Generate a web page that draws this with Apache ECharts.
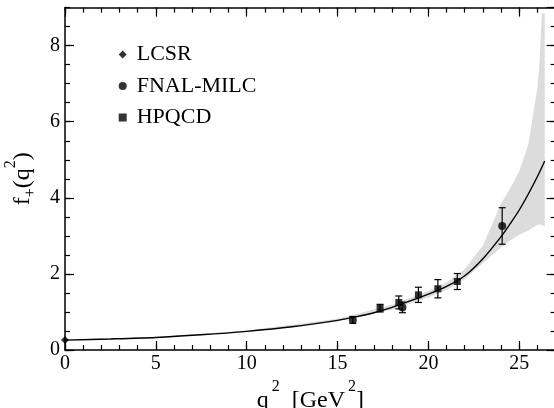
<!DOCTYPE html>
<html>
<head>
<meta charset="utf-8">
<script src="https://cdn.jsdelivr.net/npm/echarts@6/dist/echarts.min.js"></script>
<style>
html,body{margin:0;padding:0;background:#fff;}
#chart{width:554px;height:408px;}
</style>
</head>
<body>
<div id="chart"></div>
<script>
// ---- data ----
const curveX = [0, 2.5, 5, 7.5, 10, 12.5, 15, 16, 17, 18, 19, 20, 21, 22, 23, 24, 24.5, 25, 25.5, 26, 26.4];
const curveY = [0.26, 0.29, 0.33, 0.40, 0.49, 0.61, 0.78, 0.87, 0.98, 1.12, 1.29, 1.47, 1.67, 1.95, 2.40, 2.98, 3.32, 3.68, 4.10, 4.56, 4.97];

const bandX    = [0, 5, 10, 15, 18, 20, 21, 22, 23, 24, 24.5, 25, 25.5, 26, 26.1, 26.25, 26.4];
const bandLow  = [0.25, 0.32, 0.47, 0.75, 1.06, 1.38, 1.58, 1.86, 2.28, 2.70, 2.88, 3.03, 3.14, 3.29, 3.30, 3.30, 3.24];
const bandHigh = [0.27, 0.345, 0.51, 0.82, 1.19, 1.55, 1.78, 2.12, 2.75, 3.85, 4.25, 4.70, 5.40, 6.90, 7.45, 8.85, 8.85];

const lcsrX = [0];
const lcsrY = [0.26];

const fnalX   = [15.84, 18.57, 24.06];
const fnalY   = [0.79, 1.12, 3.26];
const fnalErr = [0.09, 0.14, 0.48];

const hpqcdX   = [17.34, 18.37, 19.45, 20.52, 21.59];
const hpqcdY   = [1.10, 1.25, 1.45, 1.61, 1.80];
const hpqcdErr = [0.10, 0.17, 0.20, 0.24, 0.21];

const xTickMajor = 5, xTickMinor = 1;
const yTickMajor = 2, yTickMinor = 0.5;
const xRange = [0, 27];
const yRange = [0, 9];

// ---- chart ----
const FONT = '"Liberation Serif", "DejaVu Serif", serif';
const chart = echarts.init(document.getElementById('chart'), null, {renderer: 'canvas'});

const zip = (xs, ys) => xs.map((x, i) => [x, ys[i]]);
const zip3 = (xs, ys, es) => xs.map((x, i) => [x, ys[i], es[i]]);

function xAx(opts) {
  return Object.assign({
    type: 'value', min: xRange[0], max: xRange[1], interval: xTickMajor,
    position: 'bottom',
    axisLine: {show: true, onZero: false, lineStyle: {color: '#000', width: 1.5}},
    axisTick: {show: true, inside: true, length: 9, lineStyle: {color: '#000', width: 1.2}},
    axisLabel: {show: false},
    splitLine: {show: false}
  }, opts);
}
function yAx(opts) {
  return Object.assign({
    type: 'value', min: yRange[0], max: yRange[1], interval: yTickMajor,
    position: 'left',
    axisLine: {show: true, onZero: false, lineStyle: {color: '#000', width: 1.5}},
    axisTick: {show: true, inside: true, length: 9, lineStyle: {color: '#000', width: 1.2}},
    axisLabel: {show: false},
    splitLine: {show: false}
  }, opts);
}
const minorTick = {show: true, inside: true, length: 5, lineStyle: {color: '#000', width: 1.2}};

const errRender = function (params, api) {
  const x = api.value(0), y = api.value(1), e = api.value(2);
  const top = api.coord([x, y + e]);
  const bot = api.coord([x, y - e]);
  const hw = 3.5;
  const st = {stroke: '#000', lineWidth: 1.2};
  return {
    type: 'group',
    children: [
      {type: 'line', shape: {x1: top[0], y1: top[1], x2: bot[0], y2: bot[1]}, style: st},
      {type: 'line', shape: {x1: top[0] - hw, y1: top[1], x2: top[0] + hw, y2: top[1]}, style: st},
      {type: 'line', shape: {x1: bot[0] - hw, y1: bot[1], x2: bot[0] + hw, y2: bot[1]}, style: st}
    ]
  };
};

const option = {
  animation: false,
  backgroundColor: '#fff',
  textStyle: {fontFamily: FONT},
  grid: {left: 65, top: 7.6, width: 490.6, height: 342.4, containLabel: false, outerBoundsMode: 'none'},
  legend: {
    data: ['LCSR', 'FNAL-MILC', 'HPQCD'],
    orient: 'vertical',
    left: 113.7, top: 38.5,
    itemWidth: 8, itemHeight: 8, itemGap: 9.5,
    selectedMode: false,
    textStyle: {fontSize: 22, fontFamily: FONT, color: '#000', padding: [0, 0, 0, 5]}
  },
  xAxis: [
    xAx({
      axisLabel: {show: true, fontSize: 20, fontFamily: FONT, color: '#000', margin: 4, showMaxLabel: false},
      name: '{m|q}{sup|2}{m|  [GeV}{sup|2}{m|]}',
      nameLocation: 'middle', nameGap: 27.7,
      nameTextStyle: {
        color: '#000', fontFamily: FONT,
        rich: {
          m: {fontSize: 24, lineHeight: 24, fontFamily: FONT, color: '#000', verticalAlign: 'bottom'},
          sup: {fontSize: 16, lineHeight: 16, fontFamily: FONT, color: '#000', verticalAlign: 'bottom', padding: [0, 0, 18, 3]}
        }
      }
    }),
    xAx({interval: xTickMinor, axisLine: {show: false, onZero: false}, axisTick: minorTick}),
    xAx({position: 'top'}),
    xAx({position: 'top', interval: xTickMinor, axisLine: {show: false, onZero: false}, axisTick: minorTick})
  ],
  yAxis: [
    yAx({
      axisLabel: {show: true, fontSize: 20, fontFamily: FONT, color: '#000', margin: 5, showMaxLabel: false},
      name: '{m|f}{sub|+}{m|(q}{sup|2}{m|)}',
      nameLocation: 'middle', nameGap: 25.5,
      nameTextStyle: {
        color: '#000', fontFamily: FONT,
        rich: {
          m: {fontSize: 24, lineHeight: 24, fontFamily: FONT, color: '#000', verticalAlign: 'bottom', padding: [0, 0, 4, 0]},
          sub: {fontSize: 16, lineHeight: 16, fontFamily: FONT, color: '#000', verticalAlign: 'bottom'},
          sup: {fontSize: 16, lineHeight: 16, fontFamily: FONT, color: '#000', verticalAlign: 'bottom', padding: [0, 0, 20, 0]}
        }
      }
    }),
    yAx({interval: yTickMinor, axisLine: {show: false, onZero: false}, axisTick: minorTick}),
    yAx({position: 'right'}),
    yAx({position: 'right', interval: yTickMinor, axisLine: {show: false, onZero: false}, axisTick: minorTick})
  ],
  series: [
    {
      type: 'custom', name: 'band', z: 1, silent: true,
      data: zip(bandX, bandHigh),
      renderItem: function (params, api) {
        if (params.dataIndex !== 0) return null;
        const pts = [];
        for (let i = 0; i < bandX.length; i++) pts.push(api.coord([bandX[i], bandHigh[i]]));
        for (let i = bandX.length - 1; i >= 0; i--) pts.push(api.coord([bandX[i], bandLow[i]]));
        return {type: 'polygon', shape: {points: pts}, style: {fill: '#dcdcdc', stroke: null}};
      }
    },
    {
      type: 'line', name: 'fit', z: 2,
      data: zip(curveX, curveY),
      smooth: 0.3,
      showSymbol: false, symbol: 'none',
      lineStyle: {color: '#000', width: 1.4}
    },
    {
      type: 'custom', name: 'fnalErr', z: 3,
      data: zip3(fnalX, fnalY, fnalErr),
      renderItem: errRender
    },
    {
      type: 'custom', name: 'hpqcdErr', z: 3,
      data: zip3(hpqcdX, hpqcdY, hpqcdErr),
      renderItem: errRender
    },
    {
      type: 'scatter', name: 'LCSR', z: 4,
      data: zip(lcsrX, lcsrY),
      symbol: 'diamond', symbolSize: 8,
      itemStyle: {color: '#000'}
    },
    {
      type: 'scatter', name: 'FNAL-MILC', z: 4,
      data: zip(fnalX, fnalY),
      symbol: 'circle', symbolSize: 8,
      itemStyle: {color: '#000'}
    },
    {
      type: 'scatter', name: 'HPQCD', z: 4,
      data: zip(hpqcdX, hpqcdY),
      symbol: 'rect', symbolSize: 7,
      itemStyle: {color: '#000'}
    }
  ]
};
chart.setOption(option);
</script>
</body>
</html>
